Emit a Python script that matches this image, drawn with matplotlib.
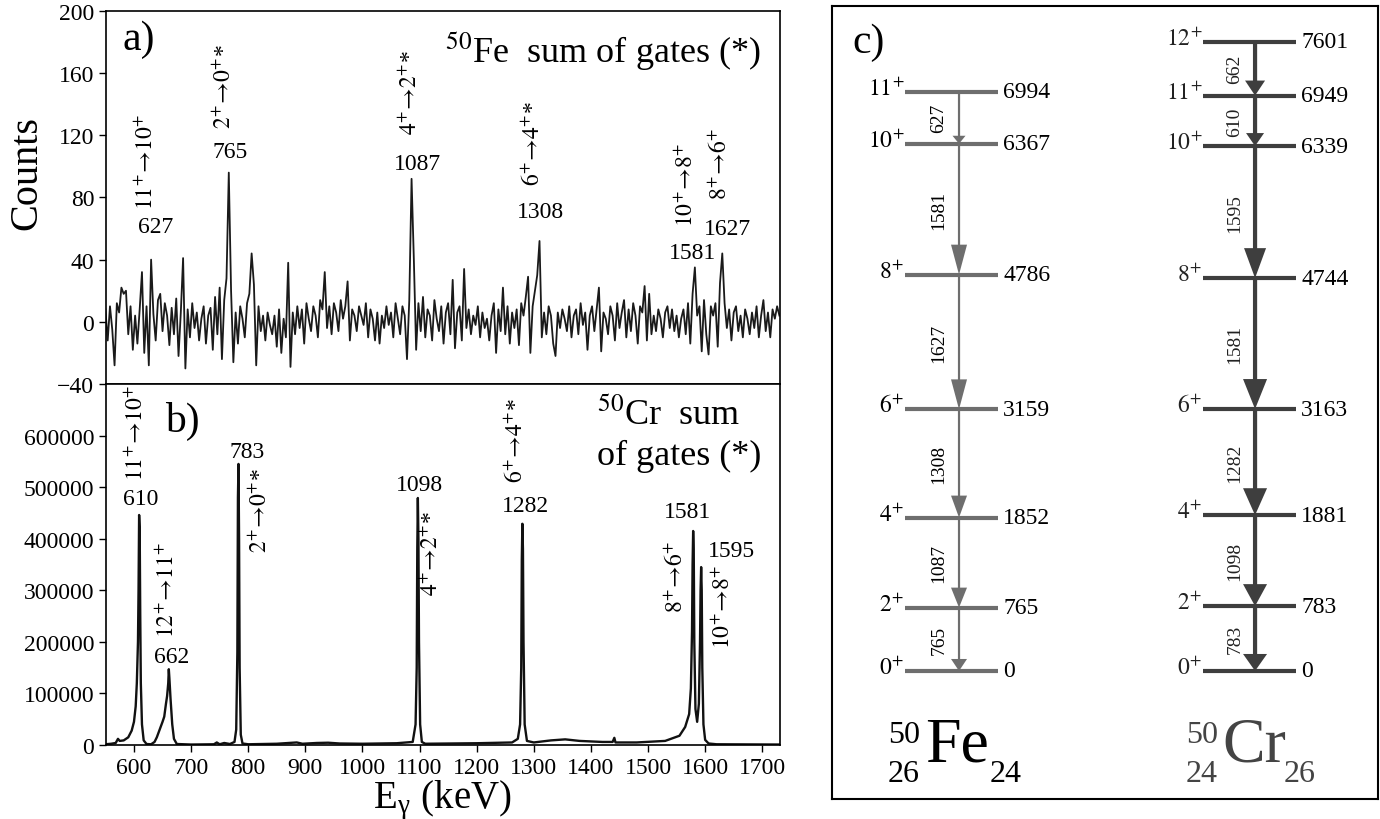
import matplotlib
matplotlib.use('Agg')
import matplotlib.pyplot as plt
import numpy as np

plt.rcParams['font.family'] = ['Liberation Serif', 'DejaVu Serif']
plt.rcParams['mathtext.fontset'] = 'stix'

# --- a) 50Fe, sum of gates: counts in 4 keV bins starting at 550 keV
fe_counts = [
    8, -12, 10, -5, -28, 12, 6, 22, 18, 20,
    -8, 10, -18, 4, -14, 8, 32, -20, 10, -28,
    40, 5, -12, 14, 18, -6, 12, 4, -15, 9,
    -8, 15, -22, 6, 41, -30, 8, -10, 12, -4,
    6, -12, 2, 10, -14, 4, 9, -18, 16, -8,
    22, -24, 14, 28, 96, 20, -26, 6, -14, 10,
    2, -10, 12, 18, 44, 24, -28, 10, -6, 4,
    -12, 6, -2, -8, 4, -16, 8, -20, 2, -10,
    38, -29, 6, -8, 10, -4, 8, -14, 12, 2,
    -6, 10, 4, -10, 14, 8, 32, -4, 10, -8,
    12, 6, -6, 14, 2, 10, 26, -12, 8, 4,
    -6, 10, 4, -2, 12, -10, 8, 2, -12, 6,
    -14, 4, -4, 10, -2, 6, -10, 12, 2, -8,
    10, 4, -24, 14, 92, 40, -18, 12, -6, 16,
    -10, 8, 4, -12, 14, 2, -6, 10, -14, 6,
    12, -8, 27, -17, 6, 10, -12, 34, -4, 8,
    -8, 4, -2, 10, -10, 6, -4, 2, -12, 4,
    12, -20, 8, -6, 22, -8, 10, -14, 6, -4,
    8, -15, 12, 4, 16, 29, -20, 10, 20, 30,
    52, -10, 6, -8, 10, 4, -14, -22, 6, -4,
    8, 2, -6, 10, -10, 4, 8, -8, 12, -2,
    6, -18, 4, 10, -6, 8, 22, -19, 6, 2,
    -8, 10, 4, -12, 12, -4, 6, 14, -10, 8,
    -6, 12, 4, -14, 10, 6, 23, -12, 18, -8,
    4, -6, 8, 2, -10, 6, 10, -4, 8, -6,
    4, -10, 2, 8, -8, 12, -14, 18, 35, 4,
    10, -19, 14, -8, -21, 10, 4, 12, -16, 25,
    44, 12, -4, 8, -12, 6, 10, -6, 4, -10,
    8, 2, -8, 6, -4, 10, -10, 4, 14, -6,
    6, -10, 8, 2, 10, 4,
]
fe_energy = 550 + 4 * np.arange(len(fe_counts))

fe_peaks = [630, 766, 1086, 1310, 1582, 1630]
fe_peak_names = ['627', '765', '1087', '1308', '1581', '1627']
fe_trans = [r'$11^{+}\!\rightarrow\!10^{+}$', r'$2^{+}\!\rightarrow\!0^{+}$*',
            r'$4^{+}\!\rightarrow\!2^{+}$*', r'$6^{+}\!\rightarrow\!4^{+}$*',
            r'$10^{+}\!\rightarrow\!8^{+}$', r'$8^{+}\!\rightarrow\!6^{+}$']

# --- b) 50Cr, sum of gates: points
cr_energy = [550, 560, 568, 572, 575, 582, 590, 596, 600, 603, 605, 607, 608, 609, 610,
             611, 612, 614, 617, 622, 630, 636, 640, 645, 650, 653, 656, 658, 660, 661,
             662, 664, 667, 670, 675, 700, 740, 745, 750, 758, 768, 776, 779, 781, 782,
             783, 784, 785, 787, 790, 800, 850, 885, 895, 920, 940, 960, 1000, 1060,
             1088, 1093, 1095, 1096, 1097, 1098, 1099, 1101, 1104, 1110, 1200, 1262,
             1272, 1276, 1278, 1279, 1280, 1281, 1282, 1284, 1288, 1300, 1330, 1355,
             1380, 1420, 1438, 1441, 1443, 1480, 1530, 1555, 1565, 1572, 1575, 1577,
             1578, 1579, 1580, 1581, 1583, 1586, 1589, 1591, 1592, 1593, 1594, 1595,
             1597, 1600, 1606, 1620, 1730]
cr_counts = [1500, 2500, 4000, 12000, 8000, 9000, 15000, 28000, 45000, 75000, 120000,
             200000, 300000, 446000, 420000, 250000, 120000, 40000, 9000, 2000, 1500,
             6000, 15000, 30000, 45000, 55000, 80000, 95000, 120000, 147000, 130000,
             90000, 40000, 12000, 2000, 1000, 1500, 5000, 1500, 4000, 2000, 6000, 30000,
             180000, 480000, 545000, 400000, 150000, 20000, 3000, 1500, 2500, 5000,
             2500, 4000, 4500, 3000, 2500, 3500, 6000, 40000, 150000, 380000, 479000,
             400000, 200000, 40000, 6000, 2500, 3500, 5000, 12000, 40000, 150000,
             360000, 429000, 380000, 200000, 40000, 8000, 5000, 9000, 11000, 8000,
             6000, 6000, 14000, 5000, 5000, 8000, 18000, 35000, 60000, 110000, 220000,
             350000, 415000, 380000, 200000, 70000, 45000, 80000, 200000, 300000,
             345000, 300000, 150000, 40000, 10000, 3000, 1500, 1000]

cr_peaks = [609, 661, 783, 1097, 1280, 1579, 1593]
cr_peak_names = ['610', '662', '783', '1098', '1282', '1581', '1595']
cr_trans = [r'$11^{+}\!\rightarrow\!10^{+}$', r'$12^{+}\!\rightarrow\!11^{+}$',
            r'$2^{+}\!\rightarrow\!0^{+}$*', r'$4^{+}\!\rightarrow\!2^{+}$*',
            r'$6^{+}\!\rightarrow\!4^{+}$*', r'$8^{+}\!\rightarrow\!6^{+}$',
            r'$10^{+}\!\rightarrow\!8^{+}$']

# --- c) level schemes (keV), gamma energies listed bottom-up
fe_levels = [0, 765, 1852, 3159, 4786, 6367, 6994]
fe_spins = ['0', '2', '4', '6', '8', '10', '11']
fe_gammas = [765, 1087, 1308, 1627, 1581, 627]
cr_levels = [0, 783, 1881, 3163, 4744, 6339, 6949, 7601]
cr_spins = ['0', '2', '4', '6', '8', '10', '11', '12']
cr_gammas = [783, 1098, 1282, 1581, 1595, 610, 662]

# label offsets (points) relative to the peak top: number, transition
fe_num_off = [(3, 24), (1, 15), (4, 11), (1, 21), (-2, 11), (4, 18)]
fe_tr_off = [(-3, 71), (-3, 63), (-1, 63), (-4, 71), (-6, 60), (-1, 65)]
cr_num_off = [(1, 12), (2, 9), (6, 9), (1, 10), (2, 13), (-4, 14), (22, 12)]
cr_tr_off = [(-2, 60), (-1, 58), (16, -33), (10, -39), (-4, 61), (-12, -32), (16, -28)]

fig = plt.figure(figsize=(13.8, 8.2), dpi=100)
ax_a = fig.add_axes([0.0768, 0.5305, 0.4884, 0.4549])
ax_b = fig.add_axes([0.0768, 0.0902, 0.4884, 0.4403])
ax_c = fig.add_axes([0.6029, 0.0244, 0.3957, 0.9671])

ax_a.plot(fe_energy, fe_counts, color='#1a1a1a', lw=1.3)
ax_b.plot(cr_energy, cr_counts, color='#111111', lw=1.7)

for ax in (ax_a, ax_b):
    ax.set_xlim(551, 1731)
    ax.set_xticks(np.arange(600, 1800, 100))
    ax.tick_params(direction='out', length=5, width=1, labelsize=17)
    for s in ax.spines.values():
        s.set_linewidth(1.2)

ax_a.set_ylim(-40, 200)
ax_a.set_yticks(np.arange(-40, 201, 40))
ax_a.tick_params(labelbottom=False)
ax_b.set_ylim(0, 700000)
ax_b.set_yticks(np.arange(0, 600001, 100000))

for E, name, tr, no, to in zip(fe_peaks, fe_peak_names, fe_trans, fe_num_off, fe_tr_off):
    h = fe_counts[int(np.argmin(np.abs(fe_energy - E)))]
    ax_a.annotate(name, (E, h), xytext=no, textcoords='offset points',
                  ha='center', va='center', fontsize=17)
    ax_a.annotate(tr, (E, h), xytext=to, textcoords='offset points',
                  ha='center', va='center', fontsize=17, rotation=90)

cr_e = np.array(cr_energy)
for E, name, tr, no, to in zip(cr_peaks, cr_peak_names, cr_trans, cr_num_off, cr_tr_off):
    h = cr_counts[int(np.argmin(np.abs(cr_e - E)))]
    ax_b.annotate(name, (E, h), xytext=no, textcoords='offset points',
                  ha='center', va='center', fontsize=17)
    ax_b.annotate(tr, (E, h), xytext=to, textcoords='offset points',
                  ha='center', va='center', fontsize=17, rotation=90)

ax_a.text(0.025, 0.925, 'a)', transform=ax_a.transAxes, fontsize=30, va='center')
ax_b.text(0.0875, 0.90, 'b)', transform=ax_b.transAxes, fontsize=30, va='center')
ax_a.text(0.503, 0.863, r'$^{50}$Fe  sum of gates (*)', transform=ax_a.transAxes,
          fontsize=26, va='baseline')
ax_b.text(0.728, 0.889, r'$^{50}$Cr  sum', transform=ax_b.transAxes, fontsize=26, va='baseline')
ax_b.text(0.728, 0.778, 'of gates (*)', transform=ax_b.transAxes, fontsize=26, va='baseline')

fig.text(27 / 1380, 1 - 173 / 820, 'Counts', rotation=90, fontsize=29, ha='center', va='center')
fig.text(442 / 1380, 1 - 800 / 820, r'E$_{\mathregular{γ}}$ (keV)', fontsize=28,
         ha='center', va='center')

# --- level scheme panel: x in figure pixels, y in keV
ax_c.set_xlim(832, 1378)
ax_c.set_ylim(-1546, 8031)
ax_c.set_xticks([])
ax_c.set_yticks([])
for s in ax_c.spines.values():
    s.set_linewidth(1.5)

kev_per_px = 12.08
fe_style = dict(x0=905, x1=998, xa=959, col='#6e6e6e', shaft=2.2, txt='black')
cr_style = dict(x0=1203, x1=1296, xa=1255, col='#3e3e3e', shaft=4.2, txt='#222222')
fe_heads = [(16, 12), (16, 20), (16, 22), (16, 30), (16, 30), (13, 8)]
cr_heads = [(24, 17), (24, 22), (24, 27), (24, 30), (22, 30), (18, 13), (20, 15)]


def draw_scheme(levels, spins, gammas, heads, st):
    for E, J in zip(levels, spins):
        ax_c.plot([st['x0'], st['x1']], [E, E], color=st['col'], lw=3.0,
                  solid_capstyle='butt')
        ax_c.text(st['x0'] - 1, E + 40, r'$%s^{+}$' % J, ha='right', va='center',
                  fontsize=17, color=st['txt'])
        ax_c.text(st['x1'] + 5, E, str(E), ha='left', va='center', fontsize=17)
    for i, (g, (hw, hl)) in enumerate(zip(gammas, heads)):
        lo, hi = levels[i], levels[i + 1]
        ax_c.arrow(st['xa'], hi, 0, lo - hi, width=st['shaft'], head_width=hw,
                   head_length=hl * kev_per_px, length_includes_head=True,
                   color=st['col'], lw=0)
        ax_c.text(st['xa'] - 20, (lo + hi) / 2, str(g), rotation=90,
                  ha='center', va='center', fontsize=14, color=st['txt'])


draw_scheme(fe_levels, fe_spins, fe_gammas, fe_heads, fe_style)
draw_scheme(cr_levels, cr_spins, cr_gammas, cr_heads, cr_style)

ax_c.text(852, 7600, 'c)', fontsize=30, va='center')

ax_c.text(888, -857, '50', fontsize=23, va='baseline')
ax_c.text(888, -1329, '26', fontsize=23, va='baseline')
ax_c.text(925, -1087, 'Fe', fontsize=46, va='baseline')
ax_c.text(990, -1329, '24', fontsize=23, va='baseline')
ax_c.text(1186, -857, '50', fontsize=23, va='baseline', color='#444444')
ax_c.text(1186, -1329, '24', fontsize=23, va='baseline', color='#444444')
ax_c.text(1222, -1087, 'Cr', fontsize=46, va='baseline', color='#444444')
ax_c.text(1284, -1329, '26', fontsize=23, va='baseline', color='#444444')

fig.savefig('out.png', dpi=100)
